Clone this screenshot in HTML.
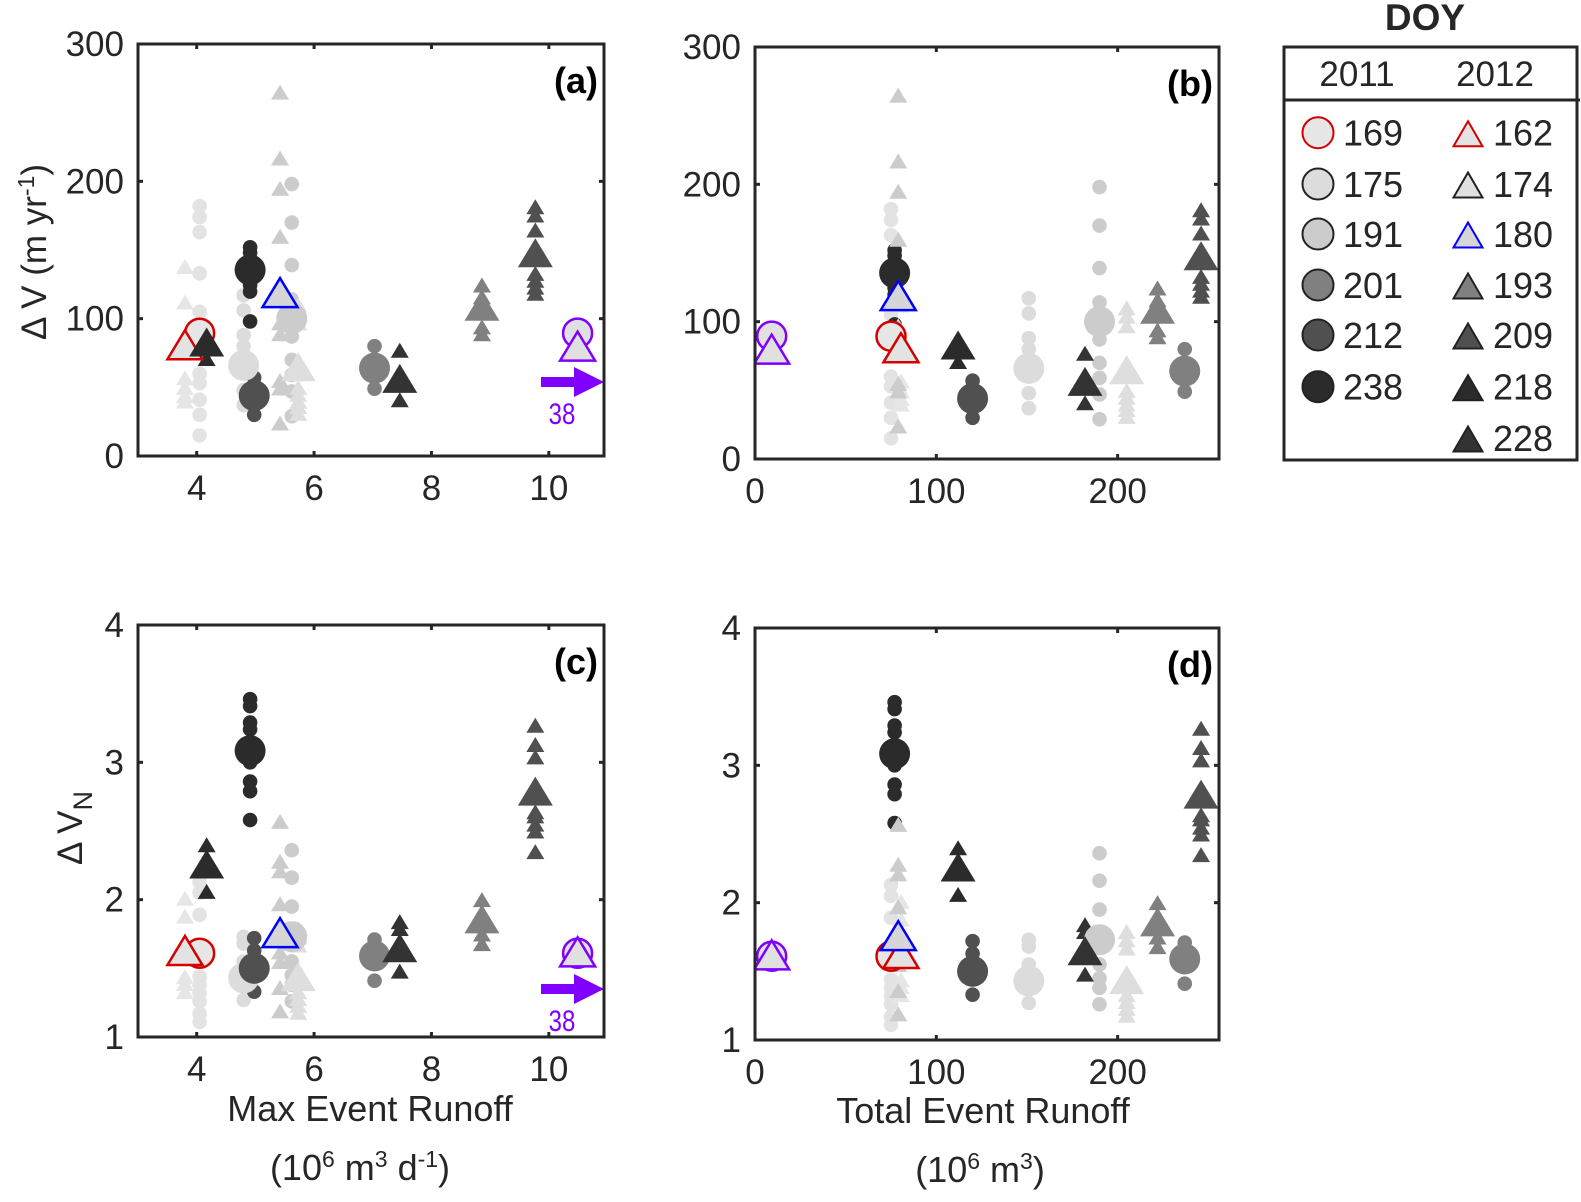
<!DOCTYPE html>
<html><head><meta charset="utf-8"><style>
html,body{margin:0;padding:0;background:#fff;}
svg{display:block;font-family:"Liberation Sans",sans-serif;}
</style></head><body>
<svg id="fig" width="1581" height="1202" viewBox="0 0 1581 1202" xmlns="http://www.w3.org/2000/svg"></svg>
<script>
// ---- data ----
const circleDoy = ["169","175","191","201","212","238"];
const triDoy = ["162","174","180","193","209","218","228"];
// circles (2011)
const cFill = ["#e6e6e6","#dcdcdc","#cccccc","#808080","#505050","#2b2b2b"];
const cStroke = ["#d40000",null,null,null,null,null];
const cXmax = [4.05,4.8,5.62,7.03,4.98,4.91];
const cXtot = [75,151,190,237,120,77];
const cDv = [89.4,66,100,64,44,135.5];
const cDvPts = [[182,174,163,133,105,83,60,53,41,30,15],[117,106,88,80,48,37],[198,170,139,114,87,70,59,47,29],[80,49],[57,52,30],[152,148,124.5,119.7,98]];
const cDvn = [1.61,1.43,1.73,1.59,1.50,3.085];
const cDvnPts = [[2.13,2.05,1.89,1.44,1.38,1.32,1.26,1.17,1.11],[1.73,1.68,1.55,1.27],[2.36,2.16,1.95,1.55,1.45,1.38,1.26],[1.71,1.41],[1.72,1.63,1.33],[3.46,3.41,3.29,3.24,3.03,3.0,2.86,2.79,2.58]];
// triangles (2012)
const tFill = ["#e3e3e3","#dedede","#d6d6d6","#808080","#505050","#2b2b2b","#333333"];
const tPtFill = ["#e6e6e6","#dedede","#cccccc","#808080","#505050","#2b2b2b","#333333"];
const tStroke = ["#d40000",null,"#0000ff",null,null,null,null];
const tXmax = [3.80,5.73,5.42,8.86,9.77,4.17,7.46];
const tXtot = [80.5,205,79,222,246,112,182];
const tDv = [81,65,119,109,148,83,56.5];
const tDvPts = [[138,112,57,50,44,40],[110,104,97,50,45,40,36,31],[265,217,195,160,97,89,55,49.5,24],[124.5,116,94,89],[181.5,175.5,164.6,133,128,123,118.5],[71],[77,41]];
const tDvn = [1.63,1.44,1.76,1.86,2.79,2.26,1.65];
const tDvnPts = [[2.01,1.88,1.44,1.39,1.33],[1.79,1.73,1.67,1.33,1.28,1.23,1.18],[2.57,2.28,2.21,1.97,1.62,1.55,1.36,1.19],[2.0,1.75,1.68],[3.27,3.13,3.04,2.64,2.61,2.55,2.50,2.35],[2.40,2.06],[1.84,1.79,1.48]];
// outlier event (true max runoff 38, drawn at axis edge)
const outXmaxPlot = 10.49;
const outXtot = 9.2;
const outDv = [89.5,80];
const outDvn = [1.61,1.62];
const xTicksMax = [4,6,8,10];
const xTicksTot = [0,100,200];
const yTicksDv = [0,100,200,300];
const yTicksDvn = [1,2,3,4];

const NS = "http://www.w3.org/2000/svg";
const svg = document.getElementById("fig");
function mk(tag, attrs, parent){const e=document.createElementNS(NS,tag);for(const k in attrs)e.setAttribute(k,attrs[k]);(parent||svg).appendChild(e);return e;}

const panels = [
 {id:"a",x0:138,x1:604,y0:44,y1:456,xmin:3,xmax:10.94,ymin:0,ymax:300,xk:"max",yk:"dv"},
 {id:"b",x0:755,x1:1219,y0:47,y1:459,xmin:0,xmax:255.9,ymin:0,ymax:300,xk:"tot",yk:"dv"},
 {id:"c",x0:138,x1:604,y0:625,y1:1037,xmin:3,xmax:10.94,ymin:1,ymax:4,xk:"max",yk:"dvn"},
 {id:"d",x0:755,x1:1219,y0:628,y1:1040,xmin:0,xmax:255.9,ymin:1,ymax:4,xk:"tot",yk:"dvn"}
];

function circ(g,x,y,r,fill,stroke,sw){
  return mk("circle",{cx:x,cy:y,r:r,fill:fill,stroke:stroke||"none","stroke-width":sw||0},g);
}
function tri(g,x,y,w,h,fill,stroke,sw){
  return mk("polygon",{points:`${x},${y-h/2} ${x-w/2},${y+h/2} ${x+w/2},${y+h/2}`,fill:fill,stroke:stroke||"none","stroke-width":sw||0,"stroke-linejoin":"miter"},g);
}

panels.forEach(p=>{
  const sx=v=>p.x0+(v-p.xmin)/(p.xmax-p.xmin)*(p.x1-p.x0);
  const sy=v=>p.y1-(v-p.ymin)/(p.ymax-p.ymin)*(p.y1-p.y0);
  const clipId="clip"+p.id;
  const cp=mk("clipPath",{id:clipId});
  mk("rect",{x:p.x0,y:p.y0,width:p.x1-p.x0,height:p.y1-p.y0},cp);
  const g=mk("g",{"clip-path":`url(#${clipId})`});
  
  
  const isDv=p.yk==="dv";
  for(let i=0;i<circleDoy.length;i++){
    const xv=p.xk==="max"?cXmax[i]:cXtot[i];
    const pts=isDv?cDvPts[i]:cDvnPts[i];
    const col=i===0?"#e3e3e3":cFill[i];
    pts.forEach(v=>{const e=circ(g,sx(xv),sy(v),7.3,col);
      
      });
  }
  for(let i=0;i<triDoy.length;i++){
    const xv=p.xk==="max"?tXmax[i]:tXtot[i];
    const pts=isDv?tDvPts[i]:tDvnPts[i];
    pts.forEach(v=>{const e=tri(g,sx(xv),sy(v),18,15,tPtFill[i]);
      
      });
  }
  for(let i=0;i<circleDoy.length;i++){
    const xv=p.xk==="max"?cXmax[i]:cXtot[i];
    const v=isDv?cDv[i]:cDvn[i];
    const e=circ(g,sx(xv),sy(v),cStroke[i]?14.5:15.5,cFill[i],cStroke[i],cStroke[i]?2.5:0);
    
    
  }
  for(let i=0;i<triDoy.length;i++){
    const xv=p.xk==="max"?tXmax[i]:tXtot[i];
    const v=isDv?tDv[i]:tDvn[i];
    const e=tri(g,sx(xv),sy(v),35,29,tFill[i],tStroke[i],tStroke[i]?2.5:0);
    
    
  }
  const ox=p.xk==="max"?outXmaxPlot:outXtot;
  const oc=circ(g,sx(ox),sy(isDv?outDv[0]:outDvn[0]),14.5,"#e0e0e0","#7f00ff",2.5);
  
  
  const ot=tri(g,sx(ox),sy(isDv?outDv[1]:outDvn[1]),35,29,"#e0e0e0","#7f00ff",2.5);
  
  
  if(p.xk==="max"){
    const ay=isDv?382:989, ag=mk("g",{});
    
    
    mk("rect",{x:p.x0+403,y:ay-5,width:36,height:10,fill:"#7f00ff"},ag);
    mk("polygon",{points:`${p.x0+436},${ay-15} ${p.x1},${ay} ${p.x0+436},${ay+15}`,fill:"#7f00ff"},ag);
    const t=mk("text",{x:p.x0+424,y:ay+42,"text-anchor":"middle","font-size":"30",fill:"#7f00ff",transform:`translate(${p.x0+424},0) scale(0.8,1) translate(${-(p.x0+424)},0)`},ag);
    t.textContent="38";
    
    
  }
  const box=mk("rect",{x:p.x0,y:p.y0,width:p.x1-p.x0,height:p.y1-p.y0,fill:"none",stroke:"#262626","stroke-width":3});
  
  
  const xt=p.xk==="max"?xTicksMax:xTicksTot;
  xt.forEach(v=>{
    const x=sx(v);
    mk("line",{x1:x,y1:p.y1,x2:x,y2:p.y1-5,stroke:"#262626","stroke-width":3});
    mk("line",{x1:x,y1:p.y0,x2:x,y2:p.y0+5,stroke:"#262626","stroke-width":3});
    const t=mk("text",{x:x,y:p.y1+44,"text-anchor":"middle","font-size":"35",fill:"#262626"});
    t.textContent=v;
    
    
  });
  const yt=isDv?yTicksDv:yTicksDvn;
  yt.forEach(v=>{
    const y=sy(v);
    mk("line",{x1:p.x0,y1:y,x2:p.x0+5,y2:y,stroke:"#262626","stroke-width":3});
    mk("line",{x1:p.x1,y1:y,x2:p.x1-5,y2:y,stroke:"#262626","stroke-width":3});
    const t=mk("text",{x:p.x0-14,y:y+12,"text-anchor":"end","font-size":"35",fill:"#262626"});
    t.textContent=v;
    
    
  });
  const pl=mk("text",{x:p.x1-6,y:p.y0+49,"text-anchor":"end","font-size":"36","font-weight":"bold",fill:"#000"});
  pl.textContent="("+p.id+")";
  
  
});

// legend
const lg=mk("g",{});


const lt=mk("text",{x:1425,y:30,"text-anchor":"middle","font-size":"37","font-weight":"bold",fill:"#262626"},lg);
lt.textContent="DOY";


mk("rect",{x:1284,y:47,width:293,height:413,fill:"none",stroke:"#262626","stroke-width":3},lg);
mk("line",{x1:1284,y1:100,x2:1580,y2:100,stroke:"#262626","stroke-width":3},lg);
[["2011",1357],["2012",1495]].forEach(([s,x])=>{
  const t=mk("text",{x:x,y:86,"text-anchor":"middle","font-size":"35",fill:"#262626"},lg);
  t.textContent=s;
  
  
});
const rowY=[132.7,184,234,285,335,386.7,438];
circleDoy.forEach((d,i)=>{
  circ(lg,1318,rowY[i],15.5,i===0?"#e6e6e6":cFill[i],cStroke[i]||"#222",2);
  const t=mk("text",{x:1343,y:rowY[i]+13,"font-size":"36",fill:"#262626"},lg);
  t.textContent=d;
  
  
});
triDoy.forEach((d,i)=>{
  tri(lg,1468,rowY[i]+1,29,25,i===1?"#e0e0e0":tFill[i],tStroke[i]||"#222",2);
  const t=mk("text",{x:1493,y:rowY[i]+13,"font-size":"36",fill:"#262626"},lg);
  t.textContent=d;
  
  
});

function txt(s,attrs,name){const t=mk("text",attrs);t.innerHTML=s;return t;}
txt('Δ V (m yr<tspan dy="-12" font-size="23">-1</tspan><tspan dy="12">)</tspan>',{x:0,y:0,"text-anchor":"middle","font-size":"35",fill:"#262626",transform:"translate(46,252) rotate(-90)"},'y-axis-title-dv');
txt('Δ V<tspan dy="10" font-size="27">N</tspan>',{x:0,y:0,"text-anchor":"middle","font-size":"35",fill:"#262626",transform:"translate(82,828) rotate(-90)"},'y-axis-title-dvn');
txt('Max Event Runoff',{x:370,y:1121,"text-anchor":"middle","font-size":"36",fill:"#262626"},'x-axis-title-max');
txt('(10<tspan dy="-13" font-size="23">6</tspan><tspan dy="13"> m</tspan><tspan dy="-13" font-size="23">3</tspan><tspan dy="13"> d</tspan><tspan dy="-13" font-size="23">-1</tspan><tspan dy="13">)</tspan>',{x:360,y:1180,"text-anchor":"middle","font-size":"36",fill:"#262626"},'x-axis-units-max');
txt('Total Event Runoff',{x:983,y:1123,"text-anchor":"middle","font-size":"36",fill:"#262626"},'x-axis-title-total');
txt('(10<tspan dy="-13" font-size="23">6</tspan><tspan dy="13"> m</tspan><tspan dy="-13" font-size="23">3</tspan><tspan dy="13">)</tspan>',{x:980,y:1182,"text-anchor":"middle","font-size":"36",fill:"#262626"},'x-axis-units-total');
</script>
</body></html>
